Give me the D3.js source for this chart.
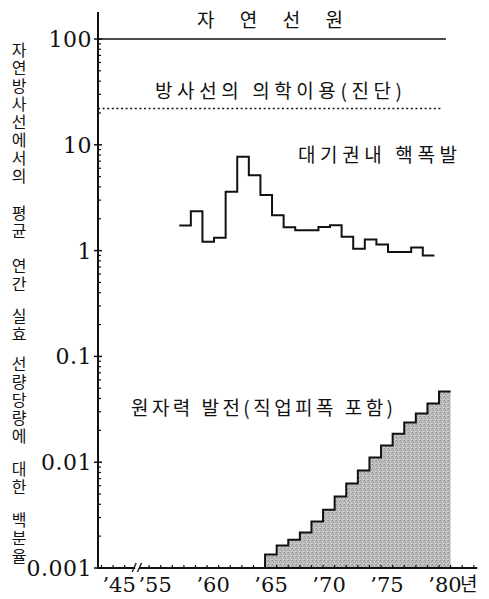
<!DOCTYPE html>
<html><head><meta charset="utf-8">
<script src="https://cdn.jsdelivr.net/npm/d3@7"></script>
<style>
html,body{margin:0;padding:0;background:#fff;}
svg{display:block;}
</style></head>
<body>
<script>
// ---- data ----
const yTickValues = [0.001, 0.01, 0.1, 1, 10, 100];
const yTickLabels = ["0.001", "0.01", "0.1", "1", "10", "100"];
const xTickYears = [1945, 1955, 1960, 1965, 1970, 1975, 1980];
const xTickLabels = ["’45", "’55", "’60", "’65", "’70", "’75", "’80"];
const naturalLevel = 100;
const medicalLevel = 22;
const falloutYears = [1958,1959,1960,1961,1962,1963,1964,1965,1966,1967,1968,1969,1970,1971,1972,1973,1974,1975,1976,1977,1978,1979];
const falloutValues = [1.73,2.35,1.21,1.32,3.6,7.7,5.15,3.36,2.16,1.66,1.56,1.56,1.67,1.74,1.35,1.04,1.27,1.14,0.97,0.97,1.07,0.90];
const powerYears = [1965,1966,1967,1968,1969,1970,1971,1972,1973,1974,1975,1976,1977,1978,1979,1980];
const powerValues = [0.00134,0.00163,0.00185,0.00216,0.00275,0.00356,0.00473,0.00628,0.00833,0.0111,0.0144,0.0186,0.0237,0.0288,0.0358,0.0465];
const yTitleGroups = ["자연방사선에서의", "평균", "연간", "실효", "선량당량에", "대한", "백분율"];

// ---- layout ----
const W = 489, H = 599;
const svg = d3.select("body").append("svg").attr("width", W).attr("height", H);

const x = d3.scaleLinear()
  .domain([1943.7, 1947.1, 1954, 1983.3])
  .range([98, 137.5, 137.5, 477.3]);
const y = d3.scaleLog().domain([0.001, 100]).range([568, 39]);

const serif = "'DejaVu Serif', 'Liberation Serif', serif";
const kr = "'Noto Sans CJK KR', sans-serif";

// stipple pattern
const defs = svg.append("defs");
const pat = defs.append("pattern").attr("id","stip").attr("width",4).attr("height",4)
  .attr("patternUnits","userSpaceOnUse");
pat.append("rect").attr("width",4).attr("height",4).attr("fill","#bababa");
[[0,0,"#8e8e8e"],[2,1,"#d6d6d6"],[1,2,"#9e9e9e"],[3,3,"#d2d2d2"],[3,1,"#a0a0a0"],[0,3,"#cccccc"]].forEach(([px,py,c])=>{
  pat.append("rect").attr("x",px).attr("y",py).attr("width",1).attr("height",1).attr("fill",c);
});

// power area
const pts = powerYears.map((yr,i)=>[yr, powerValues[i]]);
pts.push([powerYears[powerYears.length-1]+1, powerValues[powerValues.length-1]]);
const area = d3.area().curve(d3.curveStepAfter)
  .x(d=>x(d[0])).y0(y(0.001)).y1(d=>y(d[1]));
svg.append("path").datum(pts).attr("d", area).attr("fill","url(#stip)");
const pline = d3.line().curve(d3.curveStepAfter).x(d=>x(d[0])).y(d=>y(d[1]));
svg.append("path").datum([[powerYears[0],0.001]].concat(pts))
  .attr("d", pline).attr("fill","none").attr("stroke","#111").attr("stroke-width",2);

// fallout step line
const fpts = falloutYears.map((yr,i)=>[yr-0.4, falloutValues[i]]);
fpts.push([falloutYears[falloutYears.length-1]+0.6, falloutValues[falloutValues.length-1]]);
svg.append("path").datum(fpts).attr("d", pline)
  .attr("fill","none").attr("stroke","#111").attr("stroke-width",2);

// natural & medical lines
svg.append("line").attr("x1", x(1943.7)).attr("x2", x(1980.6))
  .attr("y1", y(naturalLevel)).attr("y2", y(naturalLevel))
  .attr("stroke","#111").attr("stroke-width",1.6);
svg.append("line").attr("x1", x(1943.7)).attr("x2", x(1980.3))
  .attr("y1", y(medicalLevel)).attr("y2", y(medicalLevel))
  .attr("stroke","#111").attr("stroke-width",1.5).attr("stroke-dasharray","2,2.6");

// y axis
const yAxisG = svg.append("g").attr("transform", `translate(${x(1943.7)},0)`);
yAxisG.append("line").attr("x1",0).attr("x2",0).attr("y1",12).attr("y2",y(0.001)+1)
  .attr("stroke","#111").attr("stroke-width",2);
const minor = [];
for (let e=-3; e<2; e++) for (let m=2; m<10; m++) minor.push(m*Math.pow(10,e));
yAxisG.selectAll(".mn").data(minor).join("line")
  .attr("x1",0).attr("x2",3).attr("y1",d=>y(d)).attr("y2",d=>y(d))
  .attr("stroke","#111").attr("stroke-width",1.2);
yAxisG.selectAll(".mj").data(yTickValues).join("line")
  .attr("x1",-4).attr("x2",4).attr("y1",d=>y(d)).attr("y2",d=>y(d))
  .attr("stroke","#111").attr("stroke-width",1.5);
yAxisG.selectAll(".lb").data(yTickValues).join("text")
  .attr("x",-6).attr("y",d=>y(d)).attr("dy","0.36em")
  .attr("text-anchor","end").attr("font-family",serif).attr("font-size",22)
  .attr("letter-spacing",0.5)
  .attr("fill","#111")
  .text((d,i)=>yTickLabels[i]);

// x axis
const y0 = y(0.001);
svg.append("line").attr("x1", x(1943.7)).attr("x2", x(1946.9)).attr("y1",y0).attr("y2",y0)
  .attr("stroke","#111").attr("stroke-width",2);
svg.append("line").attr("x1", x(1954)+1.5).attr("x2", x(1983.3)).attr("y1",y0).attr("y2",y0)
  .attr("stroke","#111").attr("stroke-width",2);
[x(1946.9)-1, x(1954)+2].forEach(bx=>{
  svg.append("line").attr("x1",bx-2).attr("x2",bx+2).attr("y1",y0+4).attr("y2",y0-5)
    .attr("stroke","#111").attr("stroke-width",1.3);
});
const minorYears = [1944,1945,1946].concat(d3.range(1955,1984));
svg.selectAll(".xt").data(minorYears).join("line")
  .attr("x1",d=>x(d)).attr("x2",d=>x(d)).attr("y1",y0).attr("y2",y0-3)
  .attr("stroke","#111").attr("stroke-width",1.2);
svg.selectAll(".xl").data(xTickYears).join("text")
  .attr("x",d=>x(d)+6).attr("y",592)
  .attr("text-anchor","middle").attr("font-family",serif).attr("font-size",21)
  .attr("fill","#111")
  .text((d,i)=>xTickLabels[i]);
svg.append("text").attr("x", x(1980)+21).attr("y",591)
  .attr("font-family",kr).attr("font-size",19).attr("fill","#111").text("년");

// series labels
function lab(t, x0, x1, base, size){
  svg.append("text").attr("x",x0).attr("y",base).attr("font-family",kr)
    .attr("font-size",size).attr("fill","#111")
    .attr("textLength", x1-x0).attr("lengthAdjust","spacing").text(t);
}
lab("자 연 선 원", 197, 343, 27, 19);
lab("방사선의 의학이용(진단)", 155, 402, 98, 19);
lab("대기권내 핵폭발", 298, 457, 162, 19);
lab("원자력 발전(직업피폭 포함)", 131, 393, 415, 19);

// y title (vertical, stacked characters)
const groupStarts = [50, 213, 266, 316, 364, 469, 520];
const pitch = 18;
yTitleGroups.forEach((g,gi)=>{
  Array.from(g).forEach((ch,ci)=>{
    svg.append("text").attr("x",19).attr("y", groupStarts[gi] + ci*pitch)
      .attr("dy","0.35em").attr("text-anchor","middle")
      .attr("font-family",kr).attr("font-size",16).attr("fill","#111").text(ch);
  });
});
</script>
</body></html>
